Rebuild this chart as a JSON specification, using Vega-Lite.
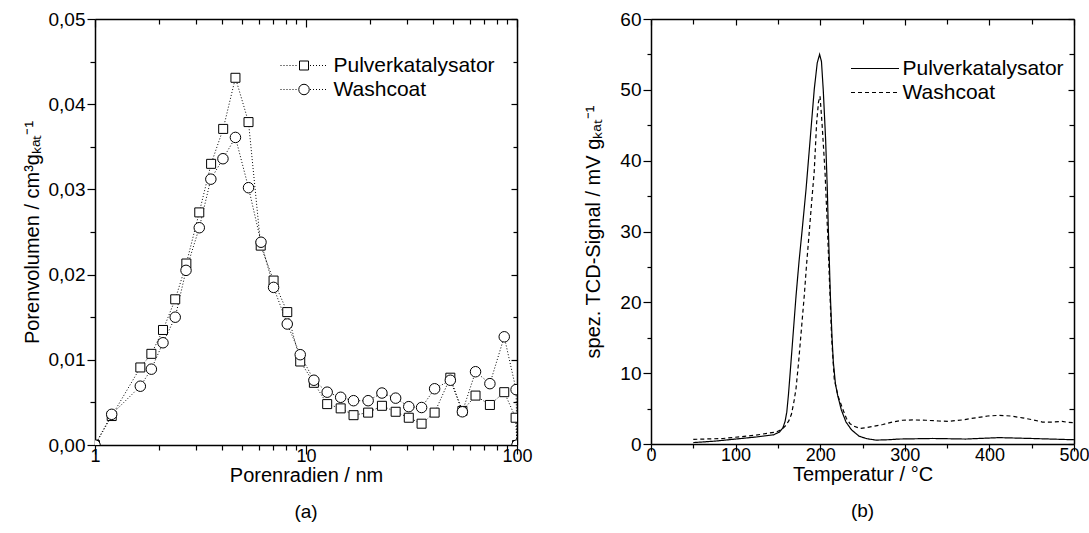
{
  "$schema": "https://vega.github.io/schema/vega-lite/v6.json",
  "background": "white",
  "padding": {"left": 22, "top": 10, "right": 5, "bottom": 5},
  "config": {
    "font": "Liberation Sans",
    "view": {"stroke": null},
    "axis": {
      "domainColor": "black", "domainWidth": 1.5, "tickColor": "black", "tickWidth": 1.2,
      "labelColor": "black", "titleColor": "black", "labelFont": "Liberation Sans", "titleFont": "Liberation Sans",
      "labelFontSize": 19, "titleFontSize": 20, "titleFontWeight": "normal", "grid": false,
      "labelFlush": false, "labelOverlap": false
    },
    "legend": {
      "labelFont": "Liberation Sans", "labelFontSize": 21, "labelColor": "black", "labelLimit": 300,
      "symbolSize": 100, "symbolStrokeWidth": 1, "symbolStrokeColor": "black", "rowPadding": 2
    },
    "title": {"font": "Liberation Sans", "fontSize": 19, "fontWeight": "normal", "color": "black"}
  },
  "datasets": {
    "pore": [
      {"r": 1.0, "v": 0.0, "s": "Pulverkatalysator"},
      {"r": 1.2, "v": 0.0034, "s": "Pulverkatalysator"},
      {"r": 1.64, "v": 0.0091, "s": "Pulverkatalysator"},
      {"r": 1.85, "v": 0.0107, "s": "Pulverkatalysator"},
      {"r": 2.10, "v": 0.0135, "s": "Pulverkatalysator"},
      {"r": 2.40, "v": 0.0171, "s": "Pulverkatalysator"},
      {"r": 2.71, "v": 0.0213, "s": "Pulverkatalysator"},
      {"r": 3.12, "v": 0.0273, "s": "Pulverkatalysator"},
      {"r": 3.55, "v": 0.0330, "s": "Pulverkatalysator"},
      {"r": 4.05, "v": 0.0371, "s": "Pulverkatalysator"},
      {"r": 4.63, "v": 0.0431, "s": "Pulverkatalysator"},
      {"r": 5.34, "v": 0.0379, "s": "Pulverkatalysator"},
      {"r": 6.10, "v": 0.0234, "s": "Pulverkatalysator"},
      {"r": 7.02, "v": 0.0193, "s": "Pulverkatalysator"},
      {"r": 8.15, "v": 0.0156, "s": "Pulverkatalysator"},
      {"r": 9.39, "v": 0.0098, "s": "Pulverkatalysator"},
      {"r": 10.9, "v": 0.0073, "s": "Pulverkatalysator"},
      {"r": 12.6, "v": 0.0048, "s": "Pulverkatalysator"},
      {"r": 14.6, "v": 0.0043, "s": "Pulverkatalysator"},
      {"r": 16.8, "v": 0.0035, "s": "Pulverkatalysator"},
      {"r": 19.7, "v": 0.0038, "s": "Pulverkatalysator"},
      {"r": 22.9, "v": 0.0046, "s": "Pulverkatalysator"},
      {"r": 26.6, "v": 0.0039, "s": "Pulverkatalysator"},
      {"r": 30.7, "v": 0.0032, "s": "Pulverkatalysator"},
      {"r": 35.3, "v": 0.0025, "s": "Pulverkatalysator"},
      {"r": 40.7, "v": 0.0038, "s": "Pulverkatalysator"},
      {"r": 48.3, "v": 0.0079, "s": "Pulverkatalysator"},
      {"r": 55.1, "v": 0.0040, "s": "Pulverkatalysator"},
      {"r": 63.6, "v": 0.0058, "s": "Pulverkatalysator"},
      {"r": 74.4, "v": 0.0047, "s": "Pulverkatalysator"},
      {"r": 87.0, "v": 0.0062, "s": "Pulverkatalysator"},
      {"r": 98.5, "v": 0.0032, "s": "Pulverkatalysator"},
      {"r": 100, "v": 0.0, "s": "Pulverkatalysator"},
      {"r": 1.0, "v": 0.0, "s": "Washcoat"},
      {"r": 1.2, "v": 0.0036, "s": "Washcoat"},
      {"r": 1.64, "v": 0.0069, "s": "Washcoat"},
      {"r": 1.85, "v": 0.0089, "s": "Washcoat"},
      {"r": 2.10, "v": 0.0120, "s": "Washcoat"},
      {"r": 2.40, "v": 0.0150, "s": "Washcoat"},
      {"r": 2.70, "v": 0.0205, "s": "Washcoat"},
      {"r": 3.12, "v": 0.0255, "s": "Washcoat"},
      {"r": 3.54, "v": 0.0312, "s": "Washcoat"},
      {"r": 4.04, "v": 0.0336, "s": "Washcoat"},
      {"r": 4.63, "v": 0.0361, "s": "Washcoat"},
      {"r": 5.34, "v": 0.0302, "s": "Washcoat"},
      {"r": 6.12, "v": 0.0238, "s": "Washcoat"},
      {"r": 7.02, "v": 0.0185, "s": "Washcoat"},
      {"r": 8.15, "v": 0.0142, "s": "Washcoat"},
      {"r": 9.39, "v": 0.0106, "s": "Washcoat"},
      {"r": 10.9, "v": 0.0076, "s": "Washcoat"},
      {"r": 12.6, "v": 0.0062, "s": "Washcoat"},
      {"r": 14.6, "v": 0.0056, "s": "Washcoat"},
      {"r": 16.8, "v": 0.0052, "s": "Washcoat"},
      {"r": 19.7, "v": 0.0052, "s": "Washcoat"},
      {"r": 22.9, "v": 0.0061, "s": "Washcoat"},
      {"r": 26.6, "v": 0.0055, "s": "Washcoat"},
      {"r": 30.7, "v": 0.0045, "s": "Washcoat"},
      {"r": 35.3, "v": 0.0044, "s": "Washcoat"},
      {"r": 40.7, "v": 0.0066, "s": "Washcoat"},
      {"r": 48.3, "v": 0.0076, "s": "Washcoat"},
      {"r": 55.1, "v": 0.0039, "s": "Washcoat"},
      {"r": 63.6, "v": 0.0086, "s": "Washcoat"},
      {"r": 74.4, "v": 0.0072, "s": "Washcoat"},
      {"r": 87.0, "v": 0.0127, "s": "Washcoat"},
      {"r": 99.0, "v": 0.0065, "s": "Washcoat"},
      {"r": 100, "v": 0.0, "s": "Washcoat"}
    ],
    "tcd": [
      {"T": 50, "v": 0.2, "s": "Pulverkatalysator"},
      {"T": 75, "v": 0.4, "s": "Pulverkatalysator"},
      {"T": 100, "v": 0.7, "s": "Pulverkatalysator"},
      {"T": 125, "v": 1.0, "s": "Pulverkatalysator"},
      {"T": 145, "v": 1.3, "s": "Pulverkatalysator"},
      {"T": 152, "v": 1.7, "s": "Pulverkatalysator"},
      {"T": 156, "v": 2.3, "s": "Pulverkatalysator"},
      {"T": 158.5, "v": 3.2, "s": "Pulverkatalysator"},
      {"T": 160.5, "v": 4.5, "s": "Pulverkatalysator"},
      {"T": 162.5, "v": 7.0, "s": "Pulverkatalysator"},
      {"T": 165.5, "v": 11.6, "s": "Pulverkatalysator"},
      {"T": 168.5, "v": 16.3, "s": "Pulverkatalysator"},
      {"T": 171.5, "v": 21.0, "s": "Pulverkatalysator"},
      {"T": 175, "v": 25.8, "s": "Pulverkatalysator"},
      {"T": 178.5, "v": 30.0, "s": "Pulverkatalysator"},
      {"T": 183.3, "v": 36.0, "s": "Pulverkatalysator"},
      {"T": 188.2, "v": 43.1, "s": "Pulverkatalysator"},
      {"T": 193, "v": 50.1, "s": "Pulverkatalysator"},
      {"T": 196.5, "v": 53.8, "s": "Pulverkatalysator"},
      {"T": 199.3, "v": 55.0, "s": "Pulverkatalysator"},
      {"T": 201.5, "v": 54.0, "s": "Pulverkatalysator"},
      {"T": 203.6, "v": 50.0, "s": "Pulverkatalysator"},
      {"T": 206.4, "v": 43.0, "s": "Pulverkatalysator"},
      {"T": 208.4, "v": 36.0, "s": "Pulverkatalysator"},
      {"T": 209.6, "v": 30.4, "s": "Pulverkatalysator"},
      {"T": 211, "v": 25.0, "s": "Pulverkatalysator"},
      {"T": 212, "v": 21.0, "s": "Pulverkatalysator"},
      {"T": 214, "v": 15.0, "s": "Pulverkatalysator"},
      {"T": 215.5, "v": 11.6, "s": "Pulverkatalysator"},
      {"T": 218, "v": 8.5, "s": "Pulverkatalysator"},
      {"T": 220.6, "v": 6.9, "s": "Pulverkatalysator"},
      {"T": 225, "v": 4.8, "s": "Pulverkatalysator"},
      {"T": 230.5, "v": 3.1, "s": "Pulverkatalysator"},
      {"T": 237, "v": 2.0, "s": "Pulverkatalysator"},
      {"T": 246, "v": 1.1, "s": "Pulverkatalysator"},
      {"T": 255, "v": 0.75, "s": "Pulverkatalysator"},
      {"T": 266, "v": 0.55, "s": "Pulverkatalysator"},
      {"T": 280, "v": 0.6, "s": "Pulverkatalysator"},
      {"T": 293, "v": 0.7, "s": "Pulverkatalysator"},
      {"T": 333, "v": 0.78, "s": "Pulverkatalysator"},
      {"T": 372, "v": 0.7, "s": "Pulverkatalysator"},
      {"T": 411, "v": 0.9, "s": "Pulverkatalysator"},
      {"T": 450, "v": 0.78, "s": "Pulverkatalysator"},
      {"T": 500, "v": 0.6, "s": "Pulverkatalysator"},
      {"T": 50, "v": 0.65, "s": "Washcoat"},
      {"T": 85, "v": 0.78, "s": "Washcoat"},
      {"T": 124, "v": 1.25, "s": "Washcoat"},
      {"T": 148, "v": 1.7, "s": "Washcoat"},
      {"T": 155, "v": 2.1, "s": "Washcoat"},
      {"T": 159.6, "v": 2.65, "s": "Washcoat"},
      {"T": 163, "v": 3.3, "s": "Washcoat"},
      {"T": 166, "v": 4.2, "s": "Washcoat"},
      {"T": 169, "v": 6.0, "s": "Washcoat"},
      {"T": 171.4, "v": 7.8, "s": "Washcoat"},
      {"T": 174.5, "v": 11.6, "s": "Washcoat"},
      {"T": 178, "v": 16.5, "s": "Washcoat"},
      {"T": 181.2, "v": 21.0, "s": "Washcoat"},
      {"T": 184, "v": 25.5, "s": "Washcoat"},
      {"T": 187.1, "v": 30.0, "s": "Washcoat"},
      {"T": 190, "v": 34.3, "s": "Washcoat"},
      {"T": 192.9, "v": 38.4, "s": "Washcoat"},
      {"T": 195.8, "v": 45.4, "s": "Washcoat"},
      {"T": 198, "v": 48.3, "s": "Washcoat"},
      {"T": 199.8, "v": 49.1, "s": "Washcoat"},
      {"T": 202.1, "v": 45.4, "s": "Washcoat"},
      {"T": 205.7, "v": 38.4, "s": "Washcoat"},
      {"T": 208.7, "v": 30.0, "s": "Washcoat"},
      {"T": 211.6, "v": 21.0, "s": "Washcoat"},
      {"T": 213.5, "v": 15.0, "s": "Washcoat"},
      {"T": 216.6, "v": 9.2, "s": "Washcoat"},
      {"T": 221, "v": 6.8, "s": "Washcoat"},
      {"T": 226.4, "v": 5.0, "s": "Washcoat"},
      {"T": 231, "v": 3.6, "s": "Washcoat"},
      {"T": 235, "v": 2.9, "s": "Washcoat"},
      {"T": 240, "v": 2.5, "s": "Washcoat"},
      {"T": 247, "v": 2.2, "s": "Washcoat"},
      {"T": 254, "v": 2.3, "s": "Washcoat"},
      {"T": 263, "v": 2.5, "s": "Washcoat"},
      {"T": 274, "v": 2.75, "s": "Washcoat"},
      {"T": 285, "v": 3.1, "s": "Washcoat"},
      {"T": 297, "v": 3.35, "s": "Washcoat"},
      {"T": 310, "v": 3.4, "s": "Washcoat"},
      {"T": 325, "v": 3.35, "s": "Washcoat"},
      {"T": 340, "v": 3.25, "s": "Washcoat"},
      {"T": 352, "v": 3.2, "s": "Washcoat"},
      {"T": 368, "v": 3.4, "s": "Washcoat"},
      {"T": 384, "v": 3.7, "s": "Washcoat"},
      {"T": 398, "v": 3.95, "s": "Washcoat"},
      {"T": 411.5, "v": 4.05, "s": "Washcoat"},
      {"T": 425, "v": 3.95, "s": "Washcoat"},
      {"T": 439, "v": 3.7, "s": "Washcoat"},
      {"T": 452, "v": 3.4, "s": "Washcoat"},
      {"T": 462.6, "v": 3.1, "s": "Washcoat"},
      {"T": 475, "v": 3.1, "s": "Washcoat"},
      {"T": 486, "v": 3.2, "s": "Washcoat"},
      {"T": 493, "v": 3.05, "s": "Washcoat"},
      {"T": 500, "v": 3.0, "s": "Washcoat"}
    ]
  },
  "bounds": "flush",
  "spacing": 134,
  "resolve": {
    "scale": {"shape": "independent", "strokeDash": "independent"},
    "legend": {"shape": "independent", "strokeDash": "independent"}
  },
  "hconcat": [
    {
      "width": 422,
      "height": 426,
      "data": {"name": "pore"},
      "title": {"text": "(a)", "orient": "bottom", "offset": 18},
      "resolve": {"axis": {"x": "independent", "y": "independent"}},
      "layer": [
        {
          "mark": {"type": "line", "color": "black", "strokeWidth": 1, "strokeDash": [1, 2], "clip": true},
          "encoding": {
            "x": {"field": "r", "type": "quantitative",
              "scale": {"type": "log", "domain": [1, 100], "nice": false},
              "axis": {"orient": "bottom", "values": [1,2,3,4,5,6,7,8,9,10,20,30,40,50,60,70,80,90,100],
                "format": "d", "labelExpr": "datum.value == 1 || datum.value == 10 || datum.value == 100 ? datum.label : ''",
                "tickSize": {"condition": {"test": "datum.value == 1 || datum.value == 10 || datum.value == 100", "value": 9}, "value": 5},
                "labelFontSize": 18, "titleFontSize": 20,
                "labelPadding": -7, "title": "Porenradien / nm", "titlePadding": 0}},
            "y": {"field": "v", "type": "quantitative",
              "scale": {"domain": [0, 0.05], "nice": false, "zero": false},
              "axis": {"orient": "left", "values": [0,0.005,0.01,0.015,0.02,0.025,0.03,0.035,0.04,0.045,0.05],
                "labelExpr": "round(datum.value*1000) % 10 == 0 ? replace(format(datum.value, '.2f'), '.', ',') : ''",
                "tickSize": {"condition": {"test": "round(datum.value*1000) % 10 == 0", "value": 8}, "value": 5},
                "labelPadding": 2, "title": "Porenvolumen / cm³gₖₐₜ⁻¹", "titlePadding": 6}},
            "detail": {"field": "s", "type": "nominal"}
          }
        },
        {
          "transform": [{"filter": "datum.s == 'Pulverkatalysator'"}],
          "mark": {"type": "point", "shape": "square", "filled": true, "fill": "white", "stroke": "black", "strokeWidth": 1, "opacity": 1, "size": 81, "clip": true},
          "encoding": {
            "x": {"field": "r", "type": "quantitative",
              "scale": {"type": "log", "domain": [1, 100], "nice": false},
              "axis": {"orient": "top", "values": [1,2,3,4,5,6,7,8,9,10,20,30,40,50,60,70,80,90,100],
                "labels": false, "title": null,
                "tickSize": {"condition": {"test": "datum.value == 1 || datum.value == 10 || datum.value == 100", "value": -8}, "value": -5}}},
            "y": {"field": "v", "type": "quantitative",
              "scale": {"domain": [0, 0.05], "nice": false, "zero": false},
              "axis": {"orient": "right", "values": [0,0.005,0.01,0.015,0.02,0.025,0.03,0.035,0.04,0.045,0.05],
                "labels": false, "title": null,
                "tickSize": {"condition": {"test": "round(datum.value*1000) % 10 == 0", "value": -6}, "value": -4}}}
          }
        },
        {
          "transform": [{"filter": "datum.s == 'Washcoat'"}],
          "mark": {"type": "point", "shape": "circle", "filled": true, "fill": "white", "stroke": "black", "strokeWidth": 1, "opacity": 1, "size": 110, "clip": true},
          "encoding": {
            "x": {"field": "r", "type": "quantitative",
              "scale": {"type": "log", "domain": [1, 100], "nice": false}, "axis": null},
            "y": {"field": "v", "type": "quantitative",
              "scale": {"domain": [0, 0.05], "nice": false, "zero": false}, "axis": null}
          }
        },
        {
          "transform": [{"filter": "false"}],
          "mark": {"type": "point", "filled": false, "stroke": "black", "color": "black", "strokeWidth": 1, "opacity": 1, "size": 100},
          "encoding": {
            "shape": {"field": "s", "type": "nominal",
              "scale": {"domain": ["Pulverkatalysator", "Washcoat"],
                "range": [
                  "M-1,0h0.2M-0.4,0h0.2M0.2,0h0.2M0.8,0h0.2M1.4,0h0.2M2.0,0h0.2M2.8,-0.9H4.6V0.9H2.8ZM4.9,0h0.2M5.5,0h0.2M6.1,0h0.2M6.7,0h0.2M7.3,0h0.2M7.9,0h0.2",
                  "M-1,0h0.2M-0.4,0h0.2M0.2,0h0.2M0.8,0h0.2M1.4,0h0.2M2.0,0h0.2M4.75,0A1.05,1.05,0,1,1,2.65,0A1.05,1.05,0,1,1,4.75,0ZM4.9,0h0.2M5.5,0h0.2M6.1,0h0.2M6.7,0h0.2M7.3,0h0.2M7.9,0h0.2"
                ]},
              "legend": {"title": null, "orient": "none", "legendX": 180, "legendY": 36, "labelOffset": 37.5,
                "symbolSize": 100, "symbolStrokeColor": "black", "symbolStrokeWidth": 1, "symbolOpacity": 1}}
          }
        }
      ]
    },
    {
      "width": 423,
      "height": 425,
      "data": {"name": "tcd"},
      "title": {"text": "(b)", "orient": "bottom", "offset": 18},
      "resolve": {"axis": {"x": "independent", "y": "independent"}},
      "layer": [
        {
          "transform": [{"filter": "datum.s == 'Pulverkatalysator'"}],
          "mark": {"type": "line", "color": "black", "strokeWidth": 1.2, "clip": true},
          "encoding": {
            "x": {"field": "T", "type": "quantitative",
              "scale": {"domain": [0, 500], "nice": false},
              "axis": {"orient": "bottom", "values": [0,50,100,150,200,250,300,350,400,450,500],
                "format": "d", "labelExpr": "datum.value % 100 == 0 ? datum.label : ''",
                "tickSize": {"condition": {"test": "datum.value % 100 == 0", "value": 7}, "value": 4},
                "labelFontSize": 18, "titleFontSize": 20,
                "labelPadding": -5, "title": "Temperatur / °C", "titlePadding": 0}},
            "y": {"field": "v", "type": "quantitative",
              "scale": {"domain": [0, 60], "nice": false},
              "axis": {"orient": "left", "values": [0,5,10,15,20,25,30,35,40,45,50,55,60],
                "format": "d", "labelExpr": "datum.value % 10 == 0 ? datum.label : ''",
                "tickSize": {"condition": {"test": "datum.value % 10 == 0", "value": 8}, "value": 4},
                "labelPadding": 2, "title": "spez. TCD-Signal / mV gₖₐₜ⁻¹", "titlePadding": 16}},
            "strokeDash": {"field": "s", "type": "nominal",
              "scale": {"domain": ["Pulverkatalysator", "Washcoat"], "range": [[1, 0], [4, 3]]},
              "legend": {"title": null, "orient": "none", "legendX": 194.5, "legendY": 39, "labelOffset": 36,
                "symbolType": "M-1,0H8.6", "symbolStrokeWidth": 1.2, "symbolStrokeColor": "black"}}
          }
        },
        {
          "transform": [{"filter": "datum.s == 'Washcoat'"}],
          "mark": {"type": "line", "color": "black", "strokeWidth": 1.2, "clip": true},
          "encoding": {
            "x": {"field": "T", "type": "quantitative",
              "scale": {"domain": [0, 500], "nice": false},
              "axis": {"orient": "top", "values": [0,50,100,150,200,250,300,350,400,450,500],
                "labels": false, "title": null,
                "tickSize": {"condition": {"test": "datum.value % 100 == 0", "value": -6}, "value": -5}}},
            "y": {"field": "v", "type": "quantitative",
              "scale": {"domain": [0, 60], "nice": false},
              "axis": {"orient": "right", "values": [0,5,10,15,20,25,30,35,40,45,50,55,60],
                "labels": false, "title": null,
                "tickSize": {"condition": {"test": "datum.value % 10 == 0", "value": -6}, "value": -5}}},
            "strokeDash": {"field": "s", "type": "nominal",
              "scale": {"domain": ["Pulverkatalysator", "Washcoat"], "range": [[1, 0], [4, 3]]},
              "legend": {"title": null, "orient": "none", "legendX": 194.5, "legendY": 39, "labelOffset": 36,
                "symbolType": "M-1,0H8.6", "symbolStrokeWidth": 1.2, "symbolStrokeColor": "black"}}
          }
        }
      ]
    }
  ]
}
